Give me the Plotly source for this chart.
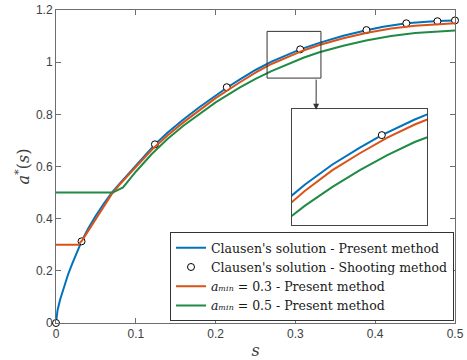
import plotly.graph_objects as go

# Clausen's solution, present method
s_clausen = [0, 0.002, 0.005, 0.01, 0.015, 0.02, 0.026, 0.032, 0.04, 0.05, 0.06, 0.07,
             0.08, 0.09, 0.1, 0.112, 0.124, 0.14, 0.16, 0.18, 0.2, 0.214, 0.23, 0.25,
             0.27, 0.29, 0.306, 0.33, 0.36, 0.389, 0.41, 0.439, 0.46, 0.478, 0.5]
a_clausen = [0, 0.05, 0.088, 0.14, 0.185, 0.225, 0.27, 0.313, 0.36, 0.412, 0.458, 0.5,
             0.535, 0.57, 0.604, 0.645, 0.685, 0.73, 0.781, 0.828, 0.872, 0.902, 0.933, 0.97,
             1.002, 1.029, 1.049, 1.074, 1.101, 1.122, 1.136, 1.149, 1.155, 1.158, 1.16]

# Clausen's solution, shooting method
s_shoot = [0, 0.032, 0.124, 0.214, 0.306, 0.389, 0.439, 0.478, 0.5]
a_shoot = [0, 0.313, 0.685, 0.904, 1.049, 1.123, 1.149, 1.157, 1.16]

# a_min = 0.3, present method
s_amin03 = [0, 0.028, 0.033, 0.04, 0.048, 0.06, 0.07, 0.08, 0.09, 0.1, 0.12, 0.14, 0.16,
            0.18, 0.2, 0.23, 0.25, 0.27, 0.29, 0.31, 0.33, 0.36, 0.39, 0.42, 0.45, 0.48, 0.5]
a_amin03 = [0.3, 0.3, 0.318, 0.352, 0.392, 0.447, 0.495, 0.532, 0.566, 0.599, 0.664, 0.72,
            0.77, 0.816, 0.862, 0.922, 0.96, 0.993, 1.02, 1.045, 1.066, 1.092, 1.113, 1.129,
            1.14, 1.147, 1.149]

# a_min = 0.5, present method
s_amin05 = [0, 0.071, 0.084, 0.1, 0.12, 0.14, 0.16, 0.18, 0.2, 0.23, 0.25, 0.27, 0.29,
            0.31, 0.33, 0.36, 0.39, 0.42, 0.45, 0.48, 0.5]
a_amin05 = [0.5, 0.5, 0.52, 0.58, 0.648, 0.706, 0.757, 0.803, 0.846, 0.902, 0.936, 0.966,
            0.993, 1.017, 1.038, 1.063, 1.084, 1.1, 1.112, 1.119, 1.121]

# axis ticks
x_ticks = [0, 0.1, 0.2, 0.3, 0.4, 0.5]
x_tick_labels = ["0", "0.1", "0.2", "0.3", "0.4", "0.5"]
y_ticks = [0, 0.2, 0.4, 0.6, 0.8, 1.0, 1.2]
y_tick_labels = ["0", "0.2", "0.4", "0.6", "0.8", "1", "1.2"]

# highlighted window and the limits of the magnified view
win_s = [0.2645, 0.332]
win_a = [0.939, 1.118]
zoom_s = [0.2405, 0.339]
zoom_a = [0.905, 1.091]

BLUE = "#0072BD"
ORANGE = "#D95319"
GREEN = "#218A45"
SERIF = "DejaVu Serif, Liberation Serif, serif"
SANS = "Liberation Sans, Arial, sans-serif"
AX = "#6e6e6e"

fig = go.Figure()

def add_series(xa, ya, show):
    fig.add_trace(go.Scatter(x=s_clausen, y=a_clausen, mode="lines",
                             line=dict(color=BLUE, width=2),
                             name="Clausen's solution - Present method",
                             showlegend=show, xaxis=xa, yaxis=ya))
    fig.add_trace(go.Scatter(x=s_shoot, y=a_shoot, mode="markers",
                             marker=dict(symbol="circle", size=7, color="white",
                                         line=dict(color="black", width=1)),
                             name="Clausen's solution - Shooting method",
                             showlegend=show, cliponaxis=(xa != "x"), xaxis=xa, yaxis=ya))
    fig.add_trace(go.Scatter(x=s_amin03, y=a_amin03, mode="lines",
                             line=dict(color=ORANGE, width=2),
                             name="<i>a\u2098\u1d62\u2099</i> = 0.3 - Present method",
                             showlegend=show, xaxis=xa, yaxis=ya))
    fig.add_trace(go.Scatter(x=s_amin05, y=a_amin05, mode="lines",
                             line=dict(color=GREEN, width=2),
                             name="<i>a\u2098\u1d62\u2099</i> = 0.5 - Present method",
                             showlegend=show, xaxis=xa, yaxis=ya))

add_series("x", "y", True)
add_series("x2", "y2", False)

# window marking the magnified region
fig.add_shape(type="rect", xref="x", yref="y",
              x0=win_s[0], x1=win_s[1], y0=win_a[0], y1=win_a[1],
              line=dict(color="#333333", width=1))

# arrow from the window down to the magnified view
fig.add_annotation(x=0.326, y=0.818, ax=0.326, ay=win_a[0],
                   xref="x", yref="y", axref="x", ayref="y",
                   text="", showarrow=True, arrowhead=2, arrowsize=1.2,
                   arrowwidth=1, arrowcolor="#333333")

common = dict(showgrid=False, zeroline=False, showline=True, linecolor=AX,
              linewidth=1, mirror="ticks", ticks="inside", ticklen=5, automargin=False,
              tickcolor=AX, tickfont=dict(family=SANS, size=12, color="#404040"))

fig.update_layout(
    width=467, height=360,
    margin=dict(l=56, r=12, t=10, b=37),
    paper_bgcolor="white", plot_bgcolor="white",
    xaxis=dict(domain=[0, 1], range=[0, 0.5], tickvals=x_ticks, ticktext=x_tick_labels,
               title=dict(text="<i>s</i>", font=dict(family=SERIF, size=16, color="#404040"),
                          standoff=5),
               **common),
    yaxis=dict(domain=[0, 1], range=[0, 1.2], tickvals=y_ticks, ticktext=y_tick_labels,
               title=dict(text="<i>a</i><sup>*</sup>(<i>s</i>)",
                          font=dict(family=SERIF, size=16, color="#404040"), standoff=2),
               **common),
    xaxis2=dict(domain=[0.5915, 0.930], range=zoom_s, anchor="y2",
                showgrid=False, zeroline=False, showline=True, linecolor="#444444",
                mirror=True, ticks="", showticklabels=False),
    yaxis2=dict(domain=[0.313, 0.684], range=zoom_a, anchor="x2",
                showgrid=False, zeroline=False, showline=True, linecolor="#444444",
                mirror=True, ticks="", showticklabels=False),
    legend=dict(x=0.9975, y=0.006, xanchor="right", yanchor="bottom",
                bgcolor="white", bordercolor="#333333", borderwidth=1,
                font=dict(family=SERIF, size=12.5, color="#1a1a1a"),
                tracegroupgap=0, itemwidth=30),
    showlegend=True,
)

fig.write_html("out.html")
